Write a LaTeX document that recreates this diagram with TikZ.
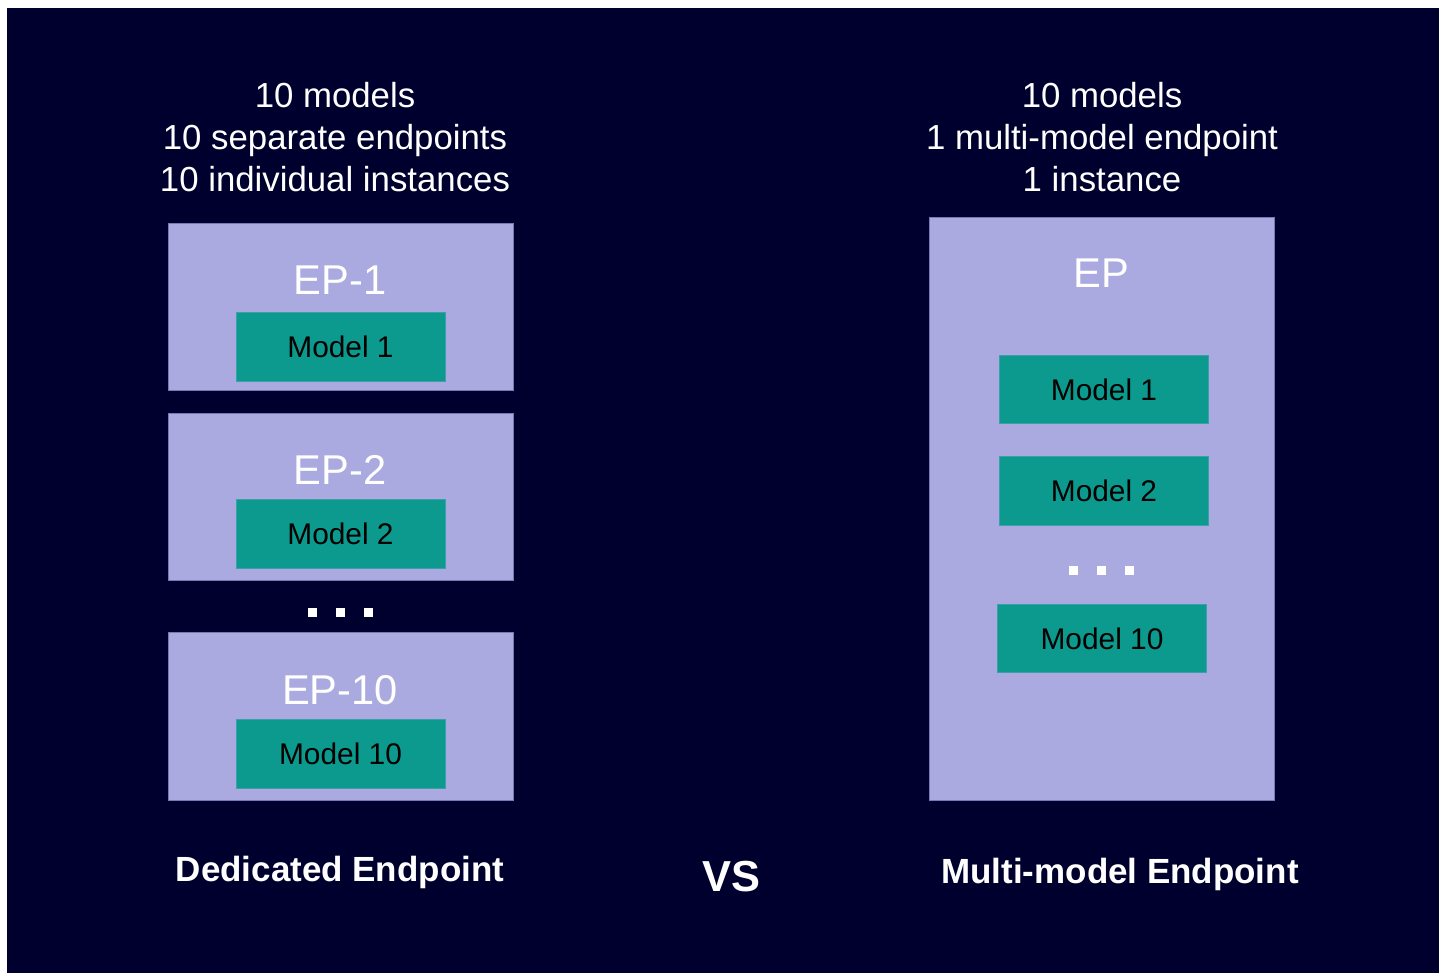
\documentclass[tikz,border=0pt]{standalone}
\usepackage{fontspec}
\setmainfont{Liberation Sans}
\usetikzlibrary{positioning}
\definecolor{cnavy}{RGB}{0,0,46}
\definecolor{clav}{RGB}{170,170,224}
\definecolor{clavedge}{RGB}{120,120,180}
\definecolor{cteal}{RGB}{12,154,142}
\definecolor{ctealedge}{RGB}{60,160,170}
\tikzset{
  hdr/.style={      % header lines above each side
    text=white, align=center, inner sep=0pt,
    font=\fontsize{19.8}{23.9}\selectfont
  },
  epbox/.style={    % endpoint (lavender)
    draw=clavedge, fill=clav, line width=0.5pt, inner sep=0pt,
    minimum width=6.9cm
  },
  eplabel/.style={  % EP-n title
    text=white, inner sep=0pt, font=\fontsize{23.7}{28}\selectfont
  },
  mdl/.style={      % model (teal)
    draw=ctealedge, fill=cteal, line width=0.4pt, inner sep=0pt,
    minimum width=4.18cm, minimum height=1.37cm,
    font=\fontsize{17}{20}\selectfont
  },
  dot/.style={fill=white, inner sep=0pt, minimum size=0.18cm},
  foot/.style={text=white, inner sep=0pt, font=\fontsize{19.9}{24}\selectfont\bfseries},
}

\begin{document}
\begin{tikzpicture}[x=0.02cm, y=-0.02cm]
\useasboundingbox (0,0) rectangle (1439,973);
\fill[white] (0,0) rectangle (1439,973);
\fill[cnavy] (7,8) rectangle (1439,973);

%% --- LEFT: dedicated endpoints ---
\node[hdr] (hdrL) at (335,137) {10 models\\10 separate endpoints\\10 individual instances};

\node[epbox, minimum height=3.34cm] (ep1)  at (340.5,306.5) {};
\node[epbox, minimum height=3.34cm] (ep2)  at (340.5,496.5) {};
\node[epbox, minimum height=3.36cm] (ep10) at (340.5,716)   {};

\node[eplabel] (ep1t)  at (340,280) {EP-1};
\node[eplabel] (ep2t)  at (340,470) {EP-2};
\node[eplabel] (ep10t) at (340,690) {EP-10};

\node[mdl] (m1L)  at (340.5,347) {Model 1};
\node[mdl] (m2L)  at (340.5,534) {Model 2};
\node[mdl] (m10L) at (340.5,754) {Model 10};

\node[dot] (dl1) at (312,612) {};
\node[dot] (dl2) at (340,612) {};
\node[dot] (dl3) at (368,612) {};

\node[foot] (footL) at (340,872) {Dedicated Endpoint};

%% --- middle ---
\node[foot, font=\fontsize{24.7}{28}\selectfont\bfseries] (vs) at (731,877) {VS};

%% --- RIGHT: multi-model endpoint ---
\node[hdr] (hdrR) at (1102,137) {10 models\\1 multi-model endpoint\\1 instance};

\node[epbox, minimum height=11.66cm] (ep) at (1101.5,508.5) {};
\node[eplabel] (ept) at (1101,273) {EP};

\node[mdl] (m1R)  at (1104,389.5) {Model 1};
\node[mdl] (m2R)  at (1104,491)   {Model 2};
\node[mdl] (m10R) at (1102,638.5) {Model 10};

\node[dot] (dr1) at (1073,570) {};
\node[dot] (dr2) at (1101,570) {};
\node[dot] (dr3) at (1129,570) {};

\node[foot] (footR) at (1120,874) {Multi-model Endpoint};

\end{tikzpicture}
\end{document}
